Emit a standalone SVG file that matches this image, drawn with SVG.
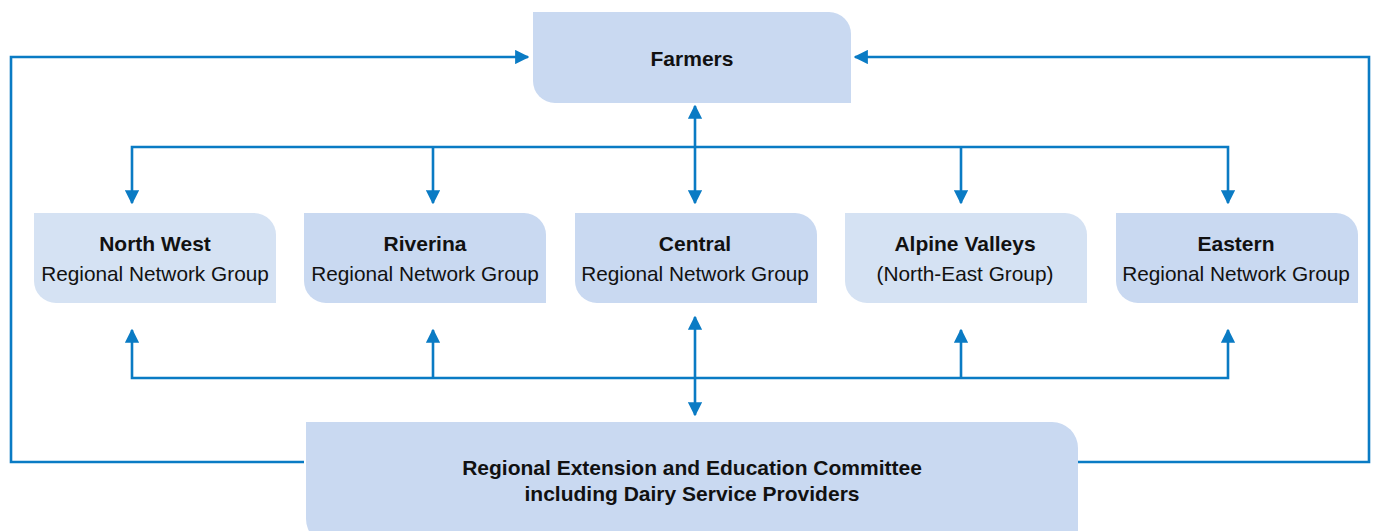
<svg xmlns="http://www.w3.org/2000/svg" width="1373" height="531" viewBox="0 0 1373 531">
<style>
.dk{fill:#c9d9f1}
.lt{fill:#d5e2f3}
text{font-family:"Liberation Sans",Arial,sans-serif;font-size:20.8px;fill:#111;text-anchor:middle}
.b{font-weight:bold;font-size:21px}
.ln{fill:none;stroke:#0a7bc4;stroke-width:2.6}
</style>
<defs>
<marker id="ah" viewBox="0 0 10 10" refX="9" refY="5" markerWidth="5.5" markerHeight="5.5" markerUnits="strokeWidth" orient="auto-start-reverse">
<path d="M0,0 L10,5 L0,10 Z" fill="#0a7bc4"/>
</marker>
</defs>
<rect width="1373" height="531" fill="#fff"/>
<g id="connectors">
<polyline class="ln" points="132,203 132,147 1228,147 1228,203" marker-start="url(#ah)" marker-end="url(#ah)"/>
<line class="ln" x1="433" y1="147" x2="433" y2="203" marker-end="url(#ah)"/>
<line class="ln" x1="961" y1="147" x2="961" y2="203" marker-end="url(#ah)"/>
<line class="ln" x1="695" y1="106" x2="695" y2="203" marker-start="url(#ah)" marker-end="url(#ah)"/>
<polyline class="ln" points="132,330 132,378 1228,378 1228,330" marker-start="url(#ah)" marker-end="url(#ah)"/>
<line class="ln" x1="433" y1="378" x2="433" y2="330" marker-end="url(#ah)"/>
<line class="ln" x1="961" y1="378" x2="961" y2="330" marker-end="url(#ah)"/>
<line class="ln" x1="695" y1="317" x2="695" y2="415" marker-start="url(#ah)" marker-end="url(#ah)"/>
<polyline class="ln" points="304,462 11,462 11,57 528,57" marker-end="url(#ah)"/>
<polyline class="ln" points="1078,462 1369,462 1369,57 855,57" marker-end="url(#ah)"/>
</g>
<g id="farmers">
<path class="dk" d="M533,12 H829 A22,22 0 0 1 851,34 V103 H555 A22,22 0 0 1 533,81 Z"/>
<text class="b" x="692" y="66">Farmers</text>
</g>
<g id="north-west">
<path class="lt" d="M34,213 H254 A22,22 0 0 1 276,235 V303 H56 A22,22 0 0 1 34,281 Z"/>
<text class="b" x="155" y="251">North West</text>
<text x="155" y="281">Regional Network Group</text>
</g>
<g id="riverina">
<path class="dk" d="M304,213 H524 A22,22 0 0 1 546,235 V303 H326 A22,22 0 0 1 304,281 Z"/>
<text class="b" x="425" y="251">Riverina</text>
<text x="425" y="281">Regional Network Group</text>
</g>
<g id="central">
<path class="dk" d="M575,213 H795 A22,22 0 0 1 817,235 V303 H597 A22,22 0 0 1 575,281 Z"/>
<text class="b" x="695" y="251">Central</text>
<text x="695" y="281">Regional Network Group</text>
</g>
<g id="alpine-valleys">
<path class="lt" d="M845,213 H1065 A22,22 0 0 1 1087,235 V303 H867 A22,22 0 0 1 845,281 Z"/>
<text class="b" x="965" y="251">Alpine Valleys</text>
<text x="965" y="281">(North-East Group)</text>
</g>
<g id="eastern">
<path class="dk" d="M1116,213 H1336 A22,22 0 0 1 1358,235 V303 H1138 A22,22 0 0 1 1116,281 Z"/>
<text class="b" x="1236" y="251">Eastern</text>
<text x="1236" y="281">Regional Network Group</text>
</g>
<g id="committee">
<path class="dk" d="M306,422 H1052 A26,26 0 0 1 1078,448 V545 H332 A26,26 0 0 1 306,519 Z"/>
<text class="b" x="692" y="475">Regional Extension and Education Committee</text>
<text class="b" x="692" y="501">including Dairy Service Providers</text>
</g>
</svg>
